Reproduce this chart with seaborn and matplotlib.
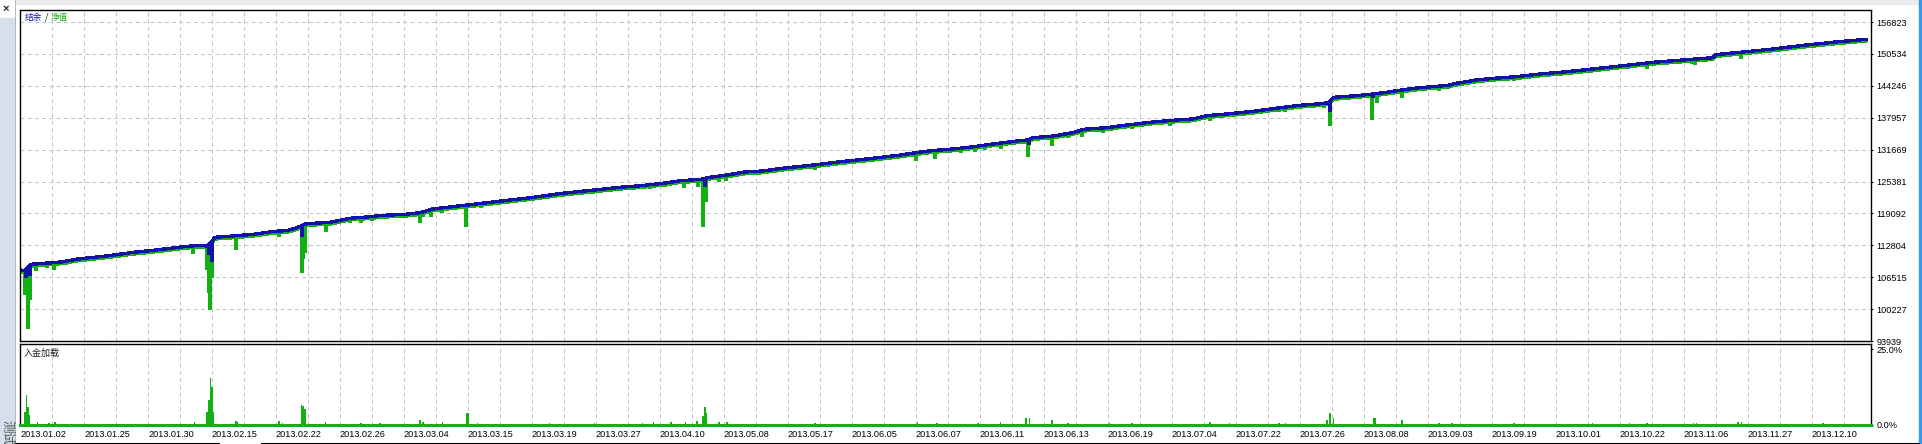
import numpy as np
import seaborn as sns
import matplotlib.pyplot as plt
from matplotlib.patches import Rectangle
from matplotlib.lines import Line2D
from matplotlib.transforms import offset_copy

# Balance curve: trade number -> account balance
balance_trade = [0, 3, 7, 15, 21, 27, 35, 42, 50, 60, 71, 81, 92, 102, 112, 117, 122, 133, 146, 158,
                 167, 172, 179, 194, 206, 219, 225, 241, 250, 258, 274, 284, 301, 319, 339, 359, 375, 388, 402, 413,
                 426, 431, 442, 453, 464, 478, 496, 513, 531, 549, 560, 571, 583, 596, 608, 623, 630, 633, 646, 658,
                 665, 679, 692, 708, 725, 733, 742, 756, 771, 785, 800, 813, 818, 821, 833, 846, 854, 867, 875, 888,
                 894, 896, 904, 910, 921, 935, 952, 965, 979, 1000, 1021, 1042, 1058, 1060, 1075, 1094, 1115, 1135, 1154]
balance_value = [107935, 107797, 109059, 109256, 109374, 109571, 110044, 110301, 110557, 110951, 111424, 111740,
                 112134, 112528, 112804, 112666, 114381, 114638, 114973, 115525, 115722, 116156, 117062, 117338,
                 118127, 118442, 118679, 118915, 119231, 119960, 120552, 120906, 121537, 122188, 123055, 123706,
                 124238, 124553, 125026, 125539, 125815, 126209, 126663, 127254, 127451, 128042, 128634, 129284,
                 129876, 130546, 131059, 131492, 131788, 132241, 132774, 133365, 133562, 134015, 134351, 135001,
                 135671, 135987, 136519, 137110, 137564, 137702, 138352, 138747, 139220, 139811, 140403, 140718,
                 140915, 141980, 142236, 142630, 142965, 143557, 143872, 144207, 144404, 144661, 145055, 145390,
                 145725, 146040, 146632, 146967, 147420, 148150, 148879, 149392, 149786, 150377, 150850, 151442,
                 152230, 152881, 153413]

# Short balance drops (losing closes before recovery)
balance_drop_trade = [4, 6, 118, 120, 176, 280, 428, 631, 819, 846]
balance_drop_value = [106299, 106800, 110900, 109414, 114500, 120413, 124356, 132576, 139141, 141901]

# Equity drawdowns below the balance line
equity_dip_trade = [3, 5, 6, 10, 17, 21, 29, 108, 117, 118, 119, 120, 129, 135, 140, 162, 176, 177, 178, 191,
                    198, 206, 213, 220, 229, 250, 252, 257, 264, 279, 286, 288, 330, 358, 394, 403, 415, 424, 427, 429,
                    437, 441, 497, 560, 572, 588, 597, 603, 613, 630, 645, 655, 664, 677, 682, 695, 719, 744, 758, 787,
                    791, 815, 819, 823, 845, 848, 864, 887, 892, 917, 934, 941, 982, 1005, 1017, 1045, 1047, 1073, 1076,
                    1104, 1127, 1145]
equity_dip_value = [103007, 96364, 102021, 107797, 108270, 107935, 108862, 111089, 107935, 103401, 100050, 106299,
                    113987, 111878, 114835, 114381, 107403, 110044, 111227, 115485, 116944, 117260, 117260, 117654,
                    117930, 117260, 118442, 118324, 119231, 116353, 120295, 120216, 121872, 122858, 123843, 124238,
                    124041, 124356, 116353, 121399, 125224, 125480, 127589, 129482, 129876, 131059, 131256, 131532,
                    131728, 130270, 132439, 134015, 134213, 135001, 135396, 135790, 136381, 137367, 138096, 139141,
                    139141, 139929, 136322, 141309, 137505, 140797, 141901, 143281, 143675, 144936, 145193, 145725,
                    146829, 147499, 147617, 148485, 148406, 150121, 149470, 151107, 151836, 152427]

# Deposit load (%)
load_trade = [3, 4, 5, 6, 11, 18, 22, 27, 109, 117, 118, 119, 120, 121, 135, 136, 152, 162, 164, 176, 177, 178,
              191, 213, 225, 250, 252, 264, 279, 280, 286, 331, 359, 389, 396, 407, 416, 423, 427, 428, 429, 437,
              442, 497, 561, 573, 599, 613, 629, 631, 645, 655, 681, 695, 744, 756, 787, 791, 817, 819, 821, 846,
              847, 864, 887, 895, 934, 983, 1006, 1017, 1046, 1048, 1074, 1076, 1127]
load_pct = [4.2, 9.8, 5.9, 3.1, 0.7, 0.4, 0.7, 0.3, 0.7, 4.2, 8.1, 15.5, 12.5, 4.2, 1.2, 0.7, 0.3, 1.1, 0.5, 6.4,
            6.3, 5.0, 0.7, 0.4, 0.4, 1.4, 0.8, 0.7, 3.9, 3.8, 0.4, 0.4, 0.4, 0.4, 0.7, 0.7, 0.7, 1.0, 2.9, 5.9,
            3.7, 0.7, 0.7, 0.4, 0.7, 0.4, 0.4, 0.7, 2.3, 2.0, 1.4, 0.4, 0.4, 0.4, 0.7, 0.4, 0.4, 0.4, 1.4, 3.9,
            2.0, 2.3, 2.0, 1.4, 0.4, 0.4, 0.4, 0.4, 0.4, 0.4, 0.4, 0.4, 0.7, 0.7, 0.4]

date_labels = ['2013.01.02', '2013.01.25', '2013.01.30', '2013.02.15', '2013.02.22', '2013.02.26', '2013.03.04',
               '2013.03.15', '2013.03.19', '2013.03.27', '2013.04.10', '2013.05.08', '2013.05.17', '2013.06.05',
               '2013.06.07', '2013.06.11', '2013.06.13', '2013.06.19', '2013.07.04', '2013.07.22', '2013.07.26',
               '2013.08.08', '2013.09.03', '2013.09.19', '2013.10.01', '2013.10.22', '2013.11.06', '2013.11.27',
               '2013.12.10']
price_ticks = [93939, 100227, 106515, 112804, 119092, 125381, 131669, 137957, 144246, 150534, 156823]

W, H = 1922, 444
GREEN = '#12b012'
BLUE = '#1212a8'
GRID = dict(color='#c4c4c4', linestyle=(0, (2.8, 2.4)), linewidth=0.75)
CJK = ['Noto Sans CJK SC', 'DejaVu Sans']


def fx(px):
    return px / W


def fy(py):
    return 1 - py / H


sns.set_theme(style="white", rc={"lines.scale_dashes": False})
plt.rcParams['font.family'] = ['Liberation Sans', 'DejaVu Sans']

fig = plt.figure(figsize=(W / 100, H / 100), dpi=100)
fig.patch.set_facecolor('white')

ax1 = fig.add_axes([fx(20), fy(341), fx(1871) - fx(20), (341 - 10) / H])
ax2 = fig.add_axes([fx(20), fy(424.5), fx(1871) - fx(20), (424.5 - 344) / H])

# Balance / equity, drawn crisp like the terminal does
sns.lineplot(x=balance_trade, y=balance_value, ax=ax1, color=GREEN, lw=1.7, estimator=None, sort=False,
             antialiased=False)
ax1.lines[-1].set_transform(offset_copy(ax1.transData, fig=fig, x=0, y=-1.7, units='dots'))
tops = np.interp(equity_dip_trade, balance_trade, balance_value)
ax1.vlines(equity_dip_trade, equity_dip_value, tops, color=GREEN, lw=1.6, antialiased=False)
tops = np.interp(balance_drop_trade, balance_trade, balance_value)
ax1.vlines(balance_drop_trade, balance_drop_value, tops, color=BLUE, lw=1.6, antialiased=False)
sns.lineplot(x=balance_trade, y=balance_value, ax=ax1, color=BLUE, lw=1.7, estimator=None, sort=False,
             antialiased=False)

# Deposit load
sns.barplot(x=load_trade, y=load_pct, ax=ax2, native_scale=True, color=GREEN, saturation=1,
            errorbar=None, width=1.0, linewidth=0, antialiased=False)
ax2.axhline(0, color=GREEN, lw=1.8, clip_on=False, zorder=5, antialiased=False)

for ax in (ax1, ax2):
    ax.set_xlim(0, 1157)
    ax.set_xticks(range(0, 1157, 40))
    ax.set_xticks(range(20, 1157, 40), minor=True)
    ax.grid(axis='x', which='both', **GRID)
    ax.yaxis.tick_right()
    ax.set_xlabel('')
    ax.set_ylabel('')
    for s in ax.spines.values():
        s.set_color('black')
        s.set_linewidth(1.0)
    ax.tick_params(axis='y', which='both', right=True, left=False, length=1.6, width=0.8, pad=2.6,
                   labelsize=6.6, colors='black')
    ax.tick_params(axis='x', which='both', length=0)

ax1.set_ylim(93939, 159189)
ax1.set_yticks(price_ticks)
ax1.set_yticklabels([str(v) for v in price_ticks])
ax1.grid(axis='y', **GRID)
ax1.tick_params(axis='x', labelbottom=False)

ax2.set_ylim(0, 26.83)
ax2.set_yticks([0, 25])
ax2.set_yticklabels(['0.0%', '25.0%'])
ax2.set_xticklabels(date_labels, ha='left')
ax2.tick_params(axis='x', pad=3.6, labelsize=6.6, colors='black')

# Titles inside the panels
fig.text(fx(25), fy(17.3), '结余', color=BLUE, fontsize=6.2, family=CJK, va='center')
fig.text(fx(44.5), fy(17.3), '/', color='black', fontsize=6.2, family=CJK, va='center')
fig.text(fx(51), fy(17.3), '净值', color=GREEN, fontsize=6.2, family=CJK, va='center')
fig.text(fx(24), fy(353.3), '入金加载', color='#202020', fontsize=6.5, family=CJK, va='center')

# Window chrome
fig.add_artist(Rectangle((0, fy(444)), fx(14), (444 - 18) / H, transform=fig.transFigure,
                         color='#d6e0ec', zorder=0))
fig.add_artist(Rectangle((fx(15), fy(4)), 1, 4 / H, transform=fig.transFigure, color='#ececec', zorder=0))
fig.add_artist(Rectangle((fx(1919), 0), fx(3), 1, transform=fig.transFigure, color='#3399ee', zorder=0))
fig.add_artist(Line2D([fx(15), fx(15)], [0, 1], transform=fig.transFigure, color='#b8b8b8', lw=0.7))
fig.add_artist(Line2D([fx(15), fx(219)], [fy(442.5)] * 2, transform=fig.transFigure, color='black', lw=0.8))
fig.add_artist(Line2D([fx(261), fx(1919)], [fy(442.5)] * 2, transform=fig.transFigure, color='black', lw=0.8))
fig.text(fx(6), fy(9), '×', fontsize=8, fontweight='bold', ha='center', va='center')
fig.text(fx(7), fy(432), '测试', fontsize=9, rotation=270, color='#505050', family=CJK,
         ha='center', va='center')

fig.savefig('out.png', dpi=100)
